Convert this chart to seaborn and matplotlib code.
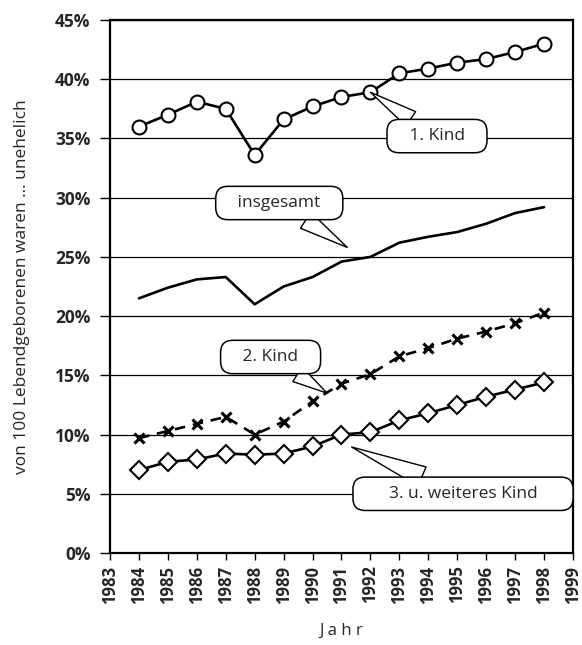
import matplotlib
matplotlib.use("Agg")
import matplotlib.pyplot as plt
import seaborn as sns

# Anteil nichtehelich Lebendgeborener nach Geburtenfolge (in %)
years = list(range(1984, 1999))
erstes_kind = [36.0, 37.0, 38.1, 37.5, 33.6, 36.6, 37.7, 38.5, 38.9, 40.5, 40.9, 41.4, 41.7, 42.3, 43.0]
insgesamt = [21.5, 22.4, 23.1, 23.3, 21.0, 22.5, 23.3, 24.6, 25.0, 26.2, 26.7, 27.1, 27.8, 28.7, 29.2]
zweites_kind = [9.7, 10.3, 10.9, 11.5, 10.0, 11.1, 12.8, 14.3, 15.1, 16.6, 17.3, 18.1, 18.7, 19.4, 20.3]
drittes_kind = [7.0, 7.7, 7.9, 8.4, 8.3, 8.4, 9.0, 10.0, 10.2, 11.2, 11.8, 12.5, 13.2, 13.8, 14.4]

x_ticks = list(range(1983, 2000))
y_ticks = list(range(0, 50, 5))

sns.set_style("ticks")
plt.rcParams["font.family"] = ["Open Sans", "DejaVu Sans"]

fig = plt.figure(figsize=(5.82, 6.45), dpi=100)
ax = fig.add_axes([0.189, 0.1426, 0.7955, 0.8264])

for y in y_ticks[1:]:
    ax.axhline(y, color="black", lw=0.9, zorder=1)

common = dict(ax=ax, color="black", lw=1.9, zorder=3, legend=False)
sns.lineplot(x=years, y=erstes_kind, marker="o", markersize=10,
             markerfacecolor="white", markeredgecolor="black", markeredgewidth=1.5, **common)
sns.lineplot(x=years, y=insgesamt, **common)
sns.lineplot(x=years, y=zweites_kind, marker="x", markersize=7.5,
             markeredgewidth=2.2, markeredgecolor="black", linestyle=(0, (4, 3)), **common)
sns.lineplot(x=years, y=drittes_kind, marker="D", markersize=9.5,
             markerfacecolor="white", markeredgecolor="black", markeredgewidth=1.5, **common)

ax.set_xlim(1983, 1999)
ax.set_ylim(0, 45)
ax.set_xticks(x_ticks)
ax.set_xticklabels([str(t) for t in x_ticks], rotation=90, fontsize=12, fontweight="bold")
ax.set_yticks(y_ticks)
ax.set_yticklabels([f"{t}%" for t in y_ticks], fontsize=12.5, fontweight="bold")
ax.tick_params(axis="x", direction="out", length=5, width=1, color="black", pad=4)
ax.tick_params(axis="y", direction="out", length=7, width=1, color="black", pad=7)

for side in ax.spines.values():
    side.set_color("black")
    side.set_linewidth(1.6)

ax.set_ylabel("von 100 Lebendgeborenen waren ... unehelich", fontsize=12.5, labelpad=18)
ax.set_xlabel("J a h r", fontsize=12, labelpad=14)

def callout(text, tip, box_center, tail=1.2):
    ax.annotate(
        text, xy=tip, xytext=box_center, ha="center", va="center", fontsize=12.5,
        zorder=5,
        bbox=dict(boxstyle="round,pad=0.5,rounding_size=0.7", fc="white", ec="black", lw=1.1),
        arrowprops=dict(arrowstyle=f"wedge,tail_width={tail}", fc="white", ec="black",
                        lw=1, shrinkA=0, shrinkB=0),
    )

callout("   1. Kind   ", (1992, erstes_kind[8]), (1994.3, 35.2), tail=1.0)
callout("   insgesamt   ", (1991.2, 25.8), (1988.85, 29.55), tail=1.1)
callout("   2. Kind   ", (1990.5, 13.5), (1988.55, 16.55), tail=1.0)
callout("      3. u. weiteres Kind      ", (1991.35, 8.95), (1995.2, 5.0), tail=1.2)

fig.savefig("out.png", dpi=100)
